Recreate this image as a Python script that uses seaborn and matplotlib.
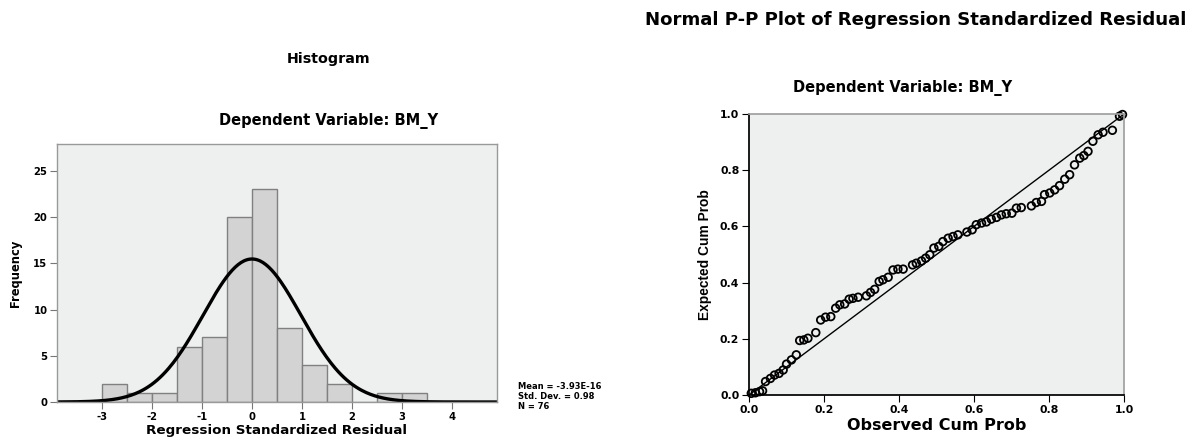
import numpy as np
import pandas as pd
import matplotlib
matplotlib.use("Agg")
import matplotlib.pyplot as plt
import seaborn as sns

# Histogram data (bin width 0.5)
bin_edges = [-3.0, -2.5, -2.0, -1.5, -1.0, -0.5, 0.0, 0.5, 1.0, 1.5, 2.0, 2.5, 3.0, 3.5]
bin_counts = [2, 1, 1, 6, 7, 20, 23, 8, 4, 2, 0, 1, 1]
resid_mean = -3.93e-16
resid_sd = 0.98
n_obs = 76

# Normal P-P plot points
observed_cum = [0.006, 0.017, 0.028, 0.036, 0.044, 0.057, 0.068, 0.080, 0.091,
                0.100, 0.113, 0.126, 0.135, 0.146, 0.157, 0.178, 0.191, 0.204,
                0.218, 0.231, 0.242, 0.255, 0.267, 0.277, 0.291, 0.313, 0.324,
                0.335, 0.347, 0.357, 0.371, 0.384, 0.397, 0.411, 0.436, 0.446,
                0.460, 0.471, 0.482, 0.493, 0.506, 0.517, 0.531, 0.544, 0.557,
                0.581, 0.595, 0.606, 0.620, 0.633, 0.646, 0.660, 0.673, 0.686,
                0.701, 0.713, 0.726, 0.753, 0.766, 0.780, 0.788, 0.802, 0.815,
                0.828, 0.842, 0.855, 0.868, 0.882, 0.893, 0.904, 0.917, 0.931,
                0.944, 0.969, 0.988, 0.996]
expected_cum = [0.006, 0.008, 0.012, 0.015, 0.048, 0.059, 0.071, 0.077, 0.089,
                0.110, 0.125, 0.143, 0.194, 0.196, 0.202, 0.222, 0.267, 0.277,
                0.279, 0.309, 0.321, 0.324, 0.341, 0.344, 0.348, 0.353, 0.365,
                0.376, 0.404, 0.410, 0.419, 0.445, 0.448, 0.448, 0.463, 0.469,
                0.477, 0.487, 0.499, 0.523, 0.529, 0.546, 0.558, 0.564, 0.570,
                0.580, 0.588, 0.606, 0.612, 0.616, 0.626, 0.632, 0.641, 0.645,
                0.647, 0.665, 0.667, 0.673, 0.685, 0.689, 0.713, 0.719, 0.730,
                0.745, 0.768, 0.784, 0.819, 0.843, 0.852, 0.867, 0.903, 0.926,
                0.935, 0.942, 0.992, 0.998]

sns.set_theme(style="white")
plt.rcParams['font.family'] = ['DejaVu Sans']
plt.rcParams['font.weight'] = 'bold'
plt.rcParams['axes.unicode_minus'] = False
plt.rcParams['text.color'] = 'black'
plt.rcParams['axes.labelcolor'] = 'black'
plt.rcParams['xtick.color'] = 'black'
plt.rcParams['ytick.color'] = 'black'

panel_bg = '#eef0ef'
fig = plt.figure(figsize=(11.96, 4.42), dpi=100)

# -----------------------------
# Left: histogram of residuals with normal curve
ax1 = fig.add_axes([0.0477, 0.0905, 0.3678, 0.5835])
ax1.set_facecolor(panel_bg)
centers = [(a + b) / 2 for a, b in zip(bin_edges[:-1], bin_edges[1:])]
sns.histplot(x=centers, weights=bin_counts, bins=bin_edges, ax=ax1,
             color='#d3d3d3', edgecolor='#808080', linewidth=1.0, alpha=1.0)
xs = np.linspace(-3.9, 4.9, 300)
curve = n_obs * 0.5 * np.exp(-0.5 * ((xs - resid_mean) / resid_sd) ** 2) / (resid_sd * np.sqrt(2 * np.pi))
sns.lineplot(x=xs, y=curve, ax=ax1, color='black', linewidth=2.4)
ax1.set_xlim(-3.9, 4.9)
ax1.set_ylim(0, 27.9)
ax1.set_xticks(range(-3, 5))
ax1.set_yticks([0, 5, 10, 15, 20, 25])
ax1.set_xlabel('Regression Standardized Residual', fontsize=9.7, fontweight='bold', labelpad=2)
ax1.set_ylabel('Frequency', fontsize=8.3, fontweight='bold', labelpad=8)
for s in ax1.spines.values():
    s.set_color('#999999')
    s.set_linewidth(1.0)
ax1.tick_params(axis='both', direction='out', length=5, width=0.8, color='#777777',
                labelsize=7.2, pad=2, bottom=True, left=True)

fig.text(0.275, 0.866, 'Histogram', ha='center', va='center', fontsize=10.3, fontweight='bold')
fig.text(0.275, 0.726, 'Dependent Variable: BM_Y', ha='center', va='center', fontsize=10.5, fontweight='bold')
fig.text(0.433, 0.136, 'Mean = -3.93E-16\nStd. Dev. = 0.98\nN = 76', ha='left', va='top',
         fontsize=6.0, fontweight='bold', linespacing=1.15)

# -----------------------------
# Right: normal P-P plot
ax2 = fig.add_axes([0.6263, 0.1063, 0.3135, 0.6358])
ax2.set_facecolor(panel_bg)
sns.lineplot(x=[0, 1], y=[0, 1], ax=ax2, color='black', linewidth=1.0)
sns.scatterplot(x=observed_cum, y=expected_cum, ax=ax2, marker='o', s=30,
                facecolor='none', edgecolor='black', linewidth=1.3, clip_on=False)
ax2.set_xlim(0, 1)
ax2.set_ylim(0, 1)
ax2.set_xticks([0, 0.2, 0.4, 0.6, 0.8, 1.0])
ax2.set_yticks([0, 0.2, 0.4, 0.6, 0.8, 1.0])
ax2.set_xticklabels(['0.0', '0.2', '0.4', '0.6', '0.8', '1.0'])
ax2.set_yticklabels(['0.0', '0.2', '0.4', '0.6', '0.8', '1.0'])
ax2.set_xlabel('Observed Cum Prob', fontsize=11.5, fontweight='bold', labelpad=2)
ax2.set_ylabel('Expected Cum Prob', fontsize=9.9, fontweight='bold', labelpad=6,
               family=['Liberation Sans', 'DejaVu Sans'])
ax2.spines['top'].set_color('#a0a0a0')
ax2.spines['right'].set_color('#a0a0a0')
ax2.spines['left'].set_color('black')
ax2.spines['bottom'].set_color('black')
ax2.tick_params(axis='both', direction='out', length=5, width=0.8, color='black',
                labelsize=7.8, pad=2, bottom=True, left=True)

fig.text(0.539, 0.955, 'Normal P-P Plot of Regression Standardized Residual', ha='left', va='center',
         fontsize=13.1, fontweight='bold')
fig.text(0.755, 0.80, 'Dependent Variable: BM_Y', ha='center', va='center', fontsize=10.5, fontweight='bold')

fig.savefig('out.png', dpi=100, facecolor='white')
